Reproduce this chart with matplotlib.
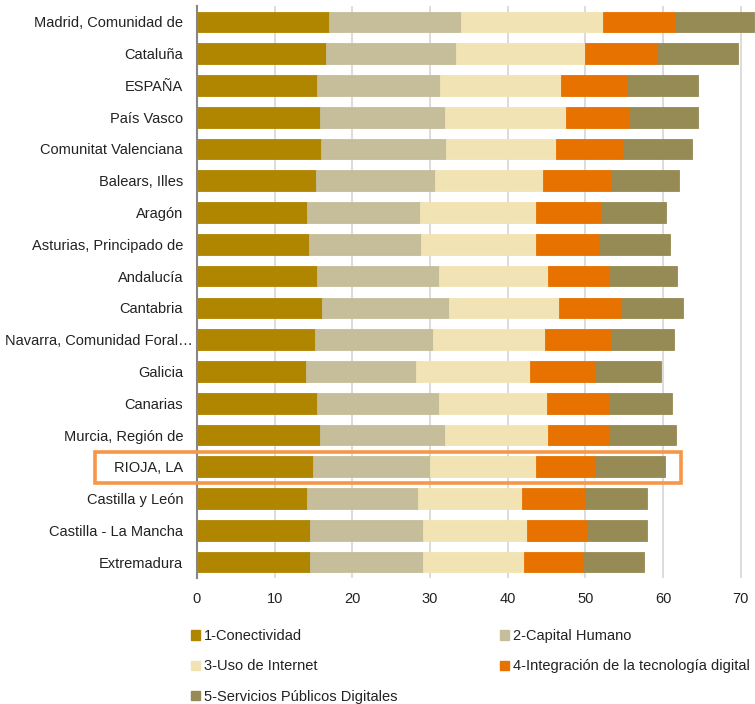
import matplotlib
matplotlib.use("Agg")
import matplotlib.pyplot as plt
from matplotlib.patches import Rectangle, Patch
from matplotlib.transforms import ScaledTranslation

plt.rcParams['font.family'] = ['Liberation Sans', 'DejaVu Sans']

regions = ["Madrid, Comunidad de", "Cataluña", "ESPAÑA", "País Vasco",
           "Comunitat Valenciana", "Balears, Illes", "Aragón",
           "Asturias, Principado de", "Andalucía", "Cantabria",
           "Navarra, Comunidad Foral…", "Galicia", "Canarias",
           "Murcia, Región de", "RIOJA, LA", "Castilla y León",
           "Castilla - La Mancha", "Extremadura"]

conectividad = [17.0, 16.6, 15.5, 15.9, 16.0, 15.3, 14.2, 14.4, 15.5, 16.1,
                15.2, 14.0, 15.5, 15.9, 14.9, 14.2, 14.5, 14.5]
capital_humano = [17.0, 16.8, 15.8, 16.0, 16.0, 15.4, 14.5, 14.4, 15.6, 16.3,
                  15.2, 14.2, 15.6, 16.0, 15.1, 14.3, 14.6, 14.6]
uso_internet = [18.3, 16.5, 15.6, 15.6, 14.2, 13.9, 15.0, 14.8, 14.1, 14.2,
                14.4, 14.7, 14.0, 13.3, 13.7, 13.4, 13.4, 13.0]
integracion = [9.3, 9.5, 8.5, 8.2, 8.6, 8.9, 8.3, 8.2, 8.0, 8.1,
               8.5, 8.5, 8.0, 8.0, 7.6, 8.1, 7.7, 7.7]
servicios = [10.1, 10.2, 9.1, 8.8, 8.9, 8.5, 8.4, 9.1, 8.6, 7.9,
             8.1, 8.4, 8.1, 8.5, 8.9, 8.0, 7.8, 7.7]

series_names = ["1-Conectividad", "2-Capital Humano", "3-Uso de Internet",
                "4-Integración de la tecnología digital",
                "5-Servicios Públicos Digitales"]
colors = ["#B08500", "#C6BE9A", "#F1E3B3", "#E77200", "#968B55"]
xticks = [0, 10, 20, 30, 40, 50, 60, 70]
highlight = "RIOJA, LA"

W, H = 755, 704
fig = plt.figure(figsize=(W / 100, H / 100), dpi=100)
ax = fig.add_axes([197 / W, 1 - 578 / H, (W - 197) / W, (578 - 6) / H])

series = [conectividad, capital_humano, uso_internet, integracion, servicios]
y = list(range(len(regions)))
left = [0.0] * len(regions)
for vals, c in zip(series, colors):
    ax.barh(y, vals, left=left, height=0.65, color=c, edgecolor=c,
            linewidth=0.6, zorder=3)
    left = [l + v for l, v in zip(left, vals)]

ax.set_xlim(0, 71.85)
ax.set_ylim(len(regions) - 0.5, -0.5)
ax.set_yticks(y)
ax.set_yticklabels(regions, fontsize=10.5, color="#222222")
ax.set_xticks(xticks)
ax.set_xticklabels([str(t) for t in xticks], fontsize=10.5, color="#222222")
ax.tick_params(axis='both', length=0)
ax.tick_params(axis='y', pad=10)
ax.tick_params(axis='x', pad=10)
ax.grid(axis='x', color="#D9D9D9", linewidth=1.3, zorder=0)
for s in ["top", "right", "bottom"]:
    ax.spines[s].set_visible(False)
ax.spines["left"].set_color("#868686")
ax.spines["left"].set_linewidth(1.5)
ax.spines["left"].set_zorder(4)

# the truncated Navarra label sits closer to the axis in the reference
for lab in ax.get_yticklabels():
    if lab.get_text().startswith("Navarra"):
        lab.set_transform(lab.get_transform() +
                          ScaledTranslation(0.10, 0, fig.dpi_scale_trans))

# highlight box around La Rioja
hi = regions.index(highlight)
rect = Rectangle((-13.1, hi - 0.47), 13.1 + 62.3, 0.98, fill=False,
                 edgecolor="#F79646", linewidth=2.6, clip_on=False, zorder=5,
                 transform=ax.transData)
ax.add_patch(rect)

handles = [Patch(facecolor=c, edgecolor=c) for c in colors]
order = [0, 2, 4, 1, 3]
fig.legend([handles[i] for i in order], [series_names[i] for i in order],
           ncol=2, loc="upper left", bbox_to_anchor=(178 / W, 1 - 616 / H),
           frameon=False, fontsize=10.5, handlelength=0.6, handleheight=0.6,
           handletextpad=0.3, columnspacing=7.0, labelspacing=1.12,
           labelcolor="#222222")

fig.savefig("out.png", dpi=100)
